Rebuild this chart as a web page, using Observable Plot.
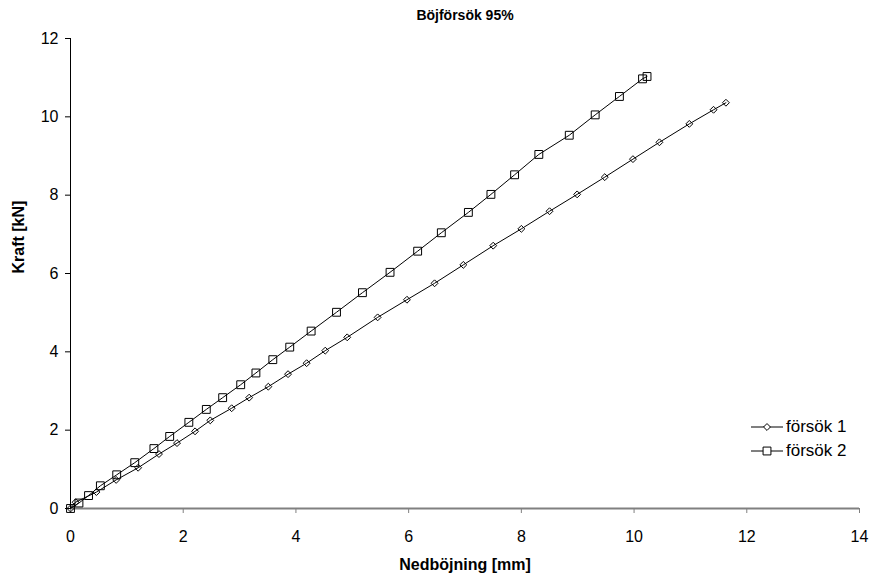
<!DOCTYPE html>
<html>
<head>
<meta charset="utf-8">
<script src="https://cdn.jsdelivr.net/npm/d3@7"></script>
<script src="https://cdn.jsdelivr.net/npm/@observablehq/plot@0.6"></script>
<style>
  html, body { margin: 0; padding: 0; background: #fff; }
  #wrap { position: relative; width: 871px; height: 579px; font-family: "Liberation Sans", Arial, sans-serif; }
  #legend { position: absolute; left: 750px; top: 415px; font-size: 17px; color: #000; }
  .item { display: flex; align-items: center; height: 24px; }
  .item svg { margin-right: 2px; }
</style>
</head>
<body>
<div id="wrap"></div>
<script>
const title = "Böjförsök 95%";
const xLabel = "Nedböjning [mm]";
const yLabel = "Kraft [kN]";
const seriesNames = ["försök 1", "försök 2"];
const xTicks = [0, 2, 4, 6, 8, 10, 12, 14];
const yTicks = [0, 2, 4, 6, 8, 10, 12];

const x1 = [0, 0.09, 0.46, 0.81, 1.20, 1.57, 1.89, 2.21, 2.48, 2.86, 3.17, 3.51, 3.86, 4.19, 4.52, 4.91, 5.45, 5.97, 6.46, 6.97, 7.50, 8.00, 8.50, 8.99, 9.48, 9.98, 10.45, 10.98, 11.41, 11.63];
const y1 = [0, 0.16, 0.42, 0.73, 1.04, 1.39, 1.67, 1.97, 2.25, 2.56, 2.83, 3.11, 3.43, 3.71, 4.03, 4.37, 4.88, 5.33, 5.75, 6.22, 6.71, 7.14, 7.59, 8.02, 8.46, 8.92, 9.35, 9.82, 10.18, 10.36];

const x2 = [0, 0.15, 0.32, 0.53, 0.82, 1.14, 1.48, 1.76, 2.10, 2.41, 2.70, 3.02, 3.29, 3.59, 3.89, 4.27, 4.72, 5.18, 5.67, 6.16, 6.58, 7.06, 7.46, 7.88, 8.31, 8.85, 9.31, 9.74, 10.15, 10.23];
const y2 = [0, 0.14, 0.33, 0.58, 0.86, 1.17, 1.53, 1.84, 2.20, 2.53, 2.83, 3.16, 3.46, 3.80, 4.12, 4.53, 5.01, 5.51, 6.03, 6.57, 7.04, 7.56, 8.02, 8.52, 9.04, 9.53, 10.05, 10.52, 10.97, 11.03];

const s1 = x1.map((x, i) => ({x, y: y1[i]}));
const s2 = x2.map((x, i) => ({x, y: y2[i]}));

const font = "Liberation Sans, Arial, sans-serif";

const chart = Plot.plot({
  width: 871,
  height: 579,
  marginTop: 38,
  marginBottom: 71,
  marginLeft: 70,
  marginRight: 12,
  style: { fontFamily: font, fontSize: "16px", color: "#000", background: "#fff" },
  x: { domain: [0, 14] },
  y: { domain: [0, 12] },
  marks: [
    Plot.axisY({ ticks: yTicks, tickSize: 5, tickPadding: 7, fontSize: 16, label: null, tickFormat: d => d }),
    Plot.axisX({ ticks: xTicks, tickSize: 5, tickPadding: 17, fontSize: 16, label: null, tickFormat: d => d, stroke: "#808080" }),
    Plot.text([yLabel], { frameAnchor: "left", dx: -52, rotate: -90, fontSize: 16, fontWeight: "bold", text: d => d }),
    Plot.text([xLabel], { frameAnchor: "bottom", dy: 61, fontSize: 16, fontWeight: "bold", text: d => d }),
    Plot.text([title], { frameAnchor: "top", dy: -28, fontSize: 14, fontWeight: "bold", text: d => d }),
    Plot.ruleY([0], { stroke: "#808080", strokeWidth: 2 }),
    Plot.ruleX([0], { stroke: "#000", strokeWidth: 1 }),
    Plot.line(s1, { x: "x", y: "y", stroke: "#000", strokeWidth: 1 }),
    Plot.line(s2, { x: "x", y: "y", stroke: "#000", strokeWidth: 1 }),
    Plot.dot(s1, { x: "x", y: "y", symbol: "diamond2", r: 3.1, stroke: "#000", strokeWidth: 1, fill: "none" }),
    Plot.dot(s2, { x: "x", y: "y", symbol: "square2", r: 5, stroke: "#000", strokeWidth: 1, fill: "none" })
  ]
});

const wrap = document.getElementById("wrap");
wrap.appendChild(chart);

// legend
const legend = d3.select(wrap).append("div").attr("id", "legend");
const syms = [d3.symbolDiamond2, d3.symbolSquare2];
const sizes = [3.1 * 3.1 * Math.PI, 25 * Math.PI];
seriesNames.forEach((name, i) => {
  const item = legend.append("div").attr("class", "item");
  const svg = item.append("svg").attr("width", 34).attr("height", 14);
  svg.append("line").attr("x1", 1).attr("x2", 33).attr("y1", 7).attr("y2", 7).attr("stroke", "#000");
  svg.append("path").attr("d", d3.symbol(syms[i], sizes[i])()).attr("transform", "translate(17,7)")
    .attr("fill", "#fff").attr("stroke", "#000");
  item.append("span").text(name);
});
</script>
</body>
</html>
